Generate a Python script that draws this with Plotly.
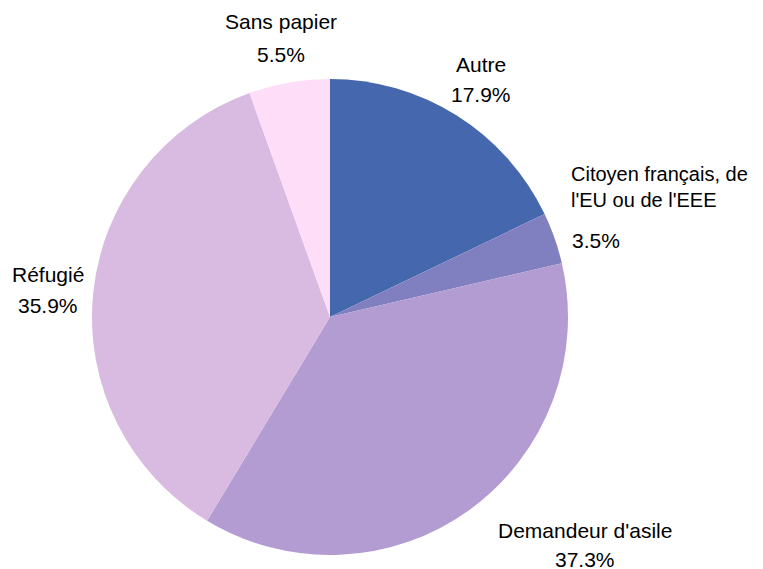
import plotly.graph_objects as go

# Répartition par statut
labels = ["Autre", "Citoyen français, de<br>l'EU ou de l'EEE", "Demandeur d'asile", "Réfugié", "Sans papier"]
values = [17.9, 3.5, 37.3, 35.9, 5.5]
colors = ["#4467AD", "#8080C0", "#B39CD2", "#D9BBE2", "#FEDDF8"]

# la page ajoute une marge de 8 px autour de la figure
OFF = 8
W, H = 763 - OFF, 569 - OFF


def px_x(x):
    return (x - OFF) / W


def px_y(y):
    return 1 - (y - OFF) / H


# positions des étiquettes (px dans la fenêtre) : (x, y nom, y pourcentage, alignement, taille)
label_pos = [
    (481, 64, 94, "center", 21),
    (570, 187, 240, "left", 20),
    (585, 530, 559, "center", 21),
    (48, 274, 305, "center", 21),
    (281, 22, 55, "center", 21),
]

fig = go.Figure()
fig.add_trace(go.Pie(
    labels=labels,
    values=values,
    sort=False,
    direction="clockwise",
    rotation=0,
    marker=dict(colors=colors, line=dict(width=0)),
    textinfo="none",
    hoverinfo="label+percent",
    domain=dict(x=[px_x(92), px_x(568)], y=[px_y(555), px_y(79)]),
    showlegend=False,
))

for lab, val, (px, py_lab, py_pct, align, size) in zip(labels, values, label_pos):
    font = dict(family="Liberation Sans, Arial, sans-serif", size=size, color="#000000")
    xanchor = "left" if align == "left" else "center"
    fig.add_annotation(x=px_x(px), y=px_y(py_lab), xref="paper", yref="paper",
                       text=lab, showarrow=False, xanchor=xanchor, yanchor="middle",
                       align=align, font=font, borderpad=0)
    fig.add_annotation(x=px_x(px + 1 if align == "left" else px), y=px_y(py_pct),
                       xref="paper", yref="paper", text=f"{val:.1f}%", showarrow=False,
                       xanchor=xanchor, yanchor="middle", borderpad=0,
                       font=dict(font, size=21))

fig.update_layout(
    width=W, height=H,
    margin=dict(l=0, r=0, t=0, b=0),
    paper_bgcolor="white",
    plot_bgcolor="white",
)

fig.write_html("out.html")
